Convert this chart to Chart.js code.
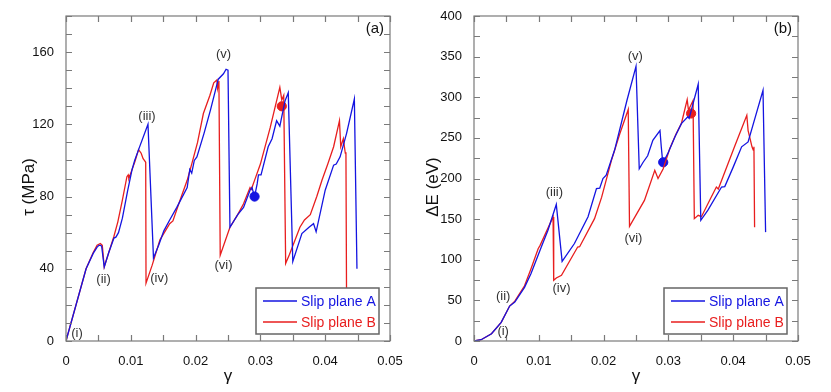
<!DOCTYPE html>
<html>
<head>
<meta charset="utf-8">
<script src="https://cdn.jsdelivr.net/npm/chart.js@4.4.0/dist/chart.umd.min.js"></script>
<style>
  body { margin: 0; background: #fff; }
  #wrap { position: relative; width: 831px; height: 392px; }
  #c1 { position: absolute; left: 0; top: 0; }
  #c2 { position: absolute; left: 415px; top: 0; }
</style>
</head>
<body>
<div id="wrap">
  <canvas id="c1" width="415" height="392"></canvas>
  <canvas id="c2" width="416" height="392"></canvas>
</div>
<script>
// ---- data, panel (a) : shear stress ----
var gammaA1 = [0,0.0031,0.0042,0.0048,0.0051,0.0053,0.0055,0.0059,0.0066,0.0074,0.0077,0.0081,0.0087,0.0095,0.0102,0.0106,0.0112,0.01265,0.0135,0.0143,0.0151,0.016,0.0171,0.0187,0.0191,0.0194,0.0198,0.0202,0.0213,0.0223,0.0235,0.0243,0.0247,0.025,0.0253,0.0265,0.0274,0.0284,0.0287,0.0291,0.0295,0.0297,0.0301,0.0312,0.0318,0.0325,0.033,0.0338,0.0343,0.035,0.0364,0.0375,0.0382,0.0386,0.04,0.0413,0.0417,0.0423,0.0433,0.0445,0.0449];
var tauA = [0,40,48.5,52,53,53,52.5,41,49,57,57.5,60,68,83,95,100,106,120,46,53,61,67,74,85,95,93,100,102,115,128,145,148,150.5,150,63,70,74,83.5,85,80,87,92,92,107.6,112,122,119,133,137.5,44,59.5,63,65,60.5,83.5,97.4,98,102,115,134,40];
var gammaB1 = [0,0.0031,0.0042,0.0048,0.0053,0.0056,0.0059,0.0066,0.0074,0.008,0.0087,0.0094,0.0096,0.0097,0.0104,0.0106,0.0112,0.0116,0.0119,0.0121,0.0123,0.01235,0.0133,0.0145,0.016,0.0165,0.0175,0.0187,0.0194,0.0203,0.0212,0.0222,0.0228,0.0233,0.0234,0.0236,0.0238,0.0253,0.0265,0.0274,0.0284,0.0286,0.029,0.03,0.0315,0.033,0.0333,0.0336,0.0339,0.0345,0.0361,0.0368,0.0377,0.0387,0.0395,0.0404,0.0413,0.0422,0.0424,0.0428,0.0431,0.0432,0.0433];
var tauB = [0,40,49,53,54,53,41,49,58,66,78,91,92,90,97,99,106,104,101,100,99,32,42,56,65,66.5,77,89,98,110,126,136,143,144.6,140,144,47.5,63,70,76,85,84,88,98,118,140.5,133.5,136,43,48,63,67,70,80,89,98,107.6,122,107.6,112,104,104.5,20];

// ---- data, panel (b) : energy ----
var gammaA2 = [0,0.0011,0.0027,0.0042,0.0055,0.0063,0.0078,0.0088,0.0104,0.0114,0.0127,0.0136,0.0155,0.0176,0.0189,0.0194,0.0199,0.0204,0.0217,0.0236,0.025,0.0255,0.0261,0.0268,0.0276,0.0287,0.0289,0.0291,0.0292,0.0299,0.031,0.032,0.033,0.0332,0.0346,0.035,0.0361,0.0382,0.0387,0.04,0.0413,0.0423,0.0446,0.045];
var energyA = [0,1.6,9,23,43,48,66,83,116,136,168,98,120,153,187.5,188,200,204,235,296,338,212,220,228,247,259,239,222,220,230.6,251,267.5,276,274,316,148.5,161,189.5,190,214,239,245,308.5,134];
var gammaB2 = [0,0.0011,0.0027,0.0042,0.0055,0.0063,0.0078,0.0088,0.0099,0.0102,0.0122,0.0123,0.0127,0.0135,0.016,0.0163,0.0186,0.0197,0.0212,0.0225,0.0238,0.024,0.0263,0.0279,0.0284,0.0292,0.0302,0.0312,0.032,0.0329,0.0331,0.0338,0.034,0.0346,0.0351,0.0366,0.0374,0.0377,0.0402,0.0421,0.0423,0.0426,0.0429,0.0431,0.0432,0.0433];
var energyB = [0,1.6,9,23,43,49,68,89,113.6,117.7,152.6,74.7,77.5,80.8,115.7,116,150.6,177,222,255,285,141,173,210,200,212,236.7,255,267.5,297,284,296,150.6,154.7,153,177,189.5,187,239,277.7,259,249,239,235,239,140];

// marked states (dots)
var dotA1 = [0.0291, 80], dotB1 = [0.0333, 130];
var dotA2 = [0.0292, 220], dotB2 = [0.0335, 280];

// ticks
var xTicks = [0, 0.01, 0.02, 0.03, 0.04, 0.05];
var xTickLabels = ['0', '0.01', '0.02', '0.03', '0.04', '0.05'];
var yTicks1 = [0, 40, 80, 120, 160];
var yTicks2 = [0, 50, 100, 150, 200, 250, 300, 350, 400];

// stage labels (text, gamma, value)
var stageText = ['(i)', '(ii)', '(iii)', '(iv)', '(v)', '(vi)'];
var stageX1 = [0.0017, 0.0058, 0.0125, 0.0144, 0.0243, 0.0243];
var stageY1 = [4, 34, 124.6, 34.6, 158.5, 42];
var stageX2 = [0.0045, 0.0045, 0.0124, 0.0135, 0.0249, 0.0246];
var stageY2 = [12, 55, 182.6, 64.4, 350, 126];

var legendNames = ['Slip plane A', 'Slip plane B'];
var blue = 'rgb(20,20,225)';
var red = 'rgb(232,30,30)';
var font = '"Liberation Sans", Arial, Helvetica, sans-serif';

function pts(xs, ys) {
  return xs.map(function (x, i) { return { x: x, y: ys[i] }; });
}

// frame, inward ticks, legend and text, drawn over the data
var decor = {
  id: 'decor',
  afterDatasetsDraw: function (chart, args, o) {
    var c = chart.ctx, a = chart.chartArea;
    var xs = chart.scales.x, ys = chart.scales.y;
    c.save();
    c.strokeStyle = '#7a7a7a';
    c.lineWidth = 1.2;
    var t = 6;
    c.beginPath();
    for (var v = 0; v <= 0.05 + 1e-9; v += 0.005) {
      var px = Math.round(xs.getPixelForValue(v)) + 0.5;
      c.moveTo(px, a.bottom); c.lineTo(px, a.bottom - t);
      c.moveTo(px, a.top); c.lineTo(px, a.top + t);
    }
    for (var w = 0; w <= o.yMax + 1e-9; w += o.yMinor) {
      var py = Math.round(ys.getPixelForValue(w)) + 0.5;
      c.moveTo(a.left, py); c.lineTo(a.left + t, py);
      c.moveTo(a.right, py); c.lineTo(a.right - t, py);
    }
    c.stroke();
    c.strokeRect(a.left, a.top, a.right - a.left, a.bottom - a.top);

    // stage labels
    c.fillStyle = '#333';
    c.font = '13px ' + font;
    c.textAlign = 'center';
    c.textBaseline = 'middle';
    o.sx.forEach(function (g, i) {
      c.fillText(stageText[i], xs.getPixelForValue(g), ys.getPixelForValue(o.sy[i]));
    });
    c.font = '15px ' + font;
    c.fillStyle = '#111';
    c.textAlign = 'right';
    c.fillText(o.tag, a.right - 6, a.top + 13);

    // legend
    var lx = a.right - 134, ly = a.bottom - 53, lw = 123, lh = 46;
    c.fillStyle = '#fff';
    c.fillRect(lx, ly, lw, lh);
    c.strokeStyle = '#666';
    c.lineWidth = 1.5;
    c.strokeRect(lx, ly, lw, lh);
    c.font = '14px ' + font;
    c.textAlign = 'left';
    [blue, red].forEach(function (col, i) {
      var yy = ly + 13 + i * 21;
      c.strokeStyle = col;
      c.lineWidth = 1.4;
      c.beginPath(); c.moveTo(lx + 7, yy); c.lineTo(lx + 41, yy); c.stroke();
      c.fillStyle = col;
      c.fillText(legendNames[i], lx + 45, yy + 1);
    });

    // axis titles
    c.fillStyle = '#111';
    c.font = '17px ' + font;
    c.textAlign = 'center';
    c.fillText('γ', (a.left + a.right) / 2, 376);
    c.save();
    c.translate(o.titleX, 187);
    c.rotate(-Math.PI / 2);
    c.fillText(o.yTitle, 0, 0);
    c.restore();
    c.restore();
  }
};

function makeChart(id, setA, setB, dA, dB, yMax, yTicks, yMinor, opts, padLeft, yWidth, padRight) {
  return new Chart(document.getElementById(id), {
    type: 'line',
    data: {
      datasets: [
        { label: legendNames[0], data: setA, borderColor: blue, borderWidth: 1.3, pointRadius: 0, tension: 0 },
        { label: legendNames[1], data: setB, borderColor: red, borderWidth: 1.3, pointRadius: 0, tension: 0 },
        { label: 'a', data: [{ x: dA[0], y: dA[1] }], showLine: false, pointRadius: 4.6, pointBackgroundColor: blue, pointBorderColor: blue },
        { label: 'b', data: [{ x: dB[0], y: dB[1] }], showLine: false, pointRadius: 4.6, pointBackgroundColor: red, pointBorderColor: red }
      ]
    },
    options: {
      responsive: false,
      animation: false,
      layout: { padding: { left: padLeft, right: padRight, top: 16, bottom: 0 } },
      plugins: { legend: { display: false }, tooltip: { enabled: false }, decor: opts },
      scales: {
        x: {
          type: 'linear', min: 0, max: 0.05,
          grid: { display: false }, border: { display: false },
          afterBuildTicks: function (s) { s.ticks = xTicks.map(function (v) { return { value: v }; }); },
          afterFit: function (s) { s.height = 51; },
          ticks: {
            padding: 5, maxRotation: 0, autoSkip: false, color: '#111',
            font: { family: font, size: 13 },
            callback: function (v, i) { return xTickLabels[i]; }
          }
        },
        y: {
          type: 'linear', min: 0, max: yMax,
          grid: { display: false }, border: { display: false },
          afterBuildTicks: function (s) { s.ticks = yTicks.map(function (v) { return { value: v }; }); },
          afterFit: function (s) { s.width = yWidth; },
          ticks: { padding: 4, color: '#111', font: { family: font, size: 13 } }
        }
      }
    },
    plugins: [decor]
  });
}

makeChart('c1', pts(gammaA1, tauA), pts(gammaB1, tauB), dotA1, dotB1, 180, yTicks1, 10,
  { yMax: 180, yMinor: 10, sx: stageX1, sy: stageY1, tag: '(a)', yTitle: 'τ (MPa)', titleX: 29 },
  0, 66, 25);
makeChart('c2', pts(gammaA2, energyA), pts(gammaB2, energyB), dotA2, dotB2, 400, yTicks2, 25,
  { yMax: 400, yMinor: 25, sx: stageX2, sy: stageY2, tag: '(b)', yTitle: 'ΔE (eV)', titleX: 18 },
  0, 59, 33);
</script>
</body>
</html>
